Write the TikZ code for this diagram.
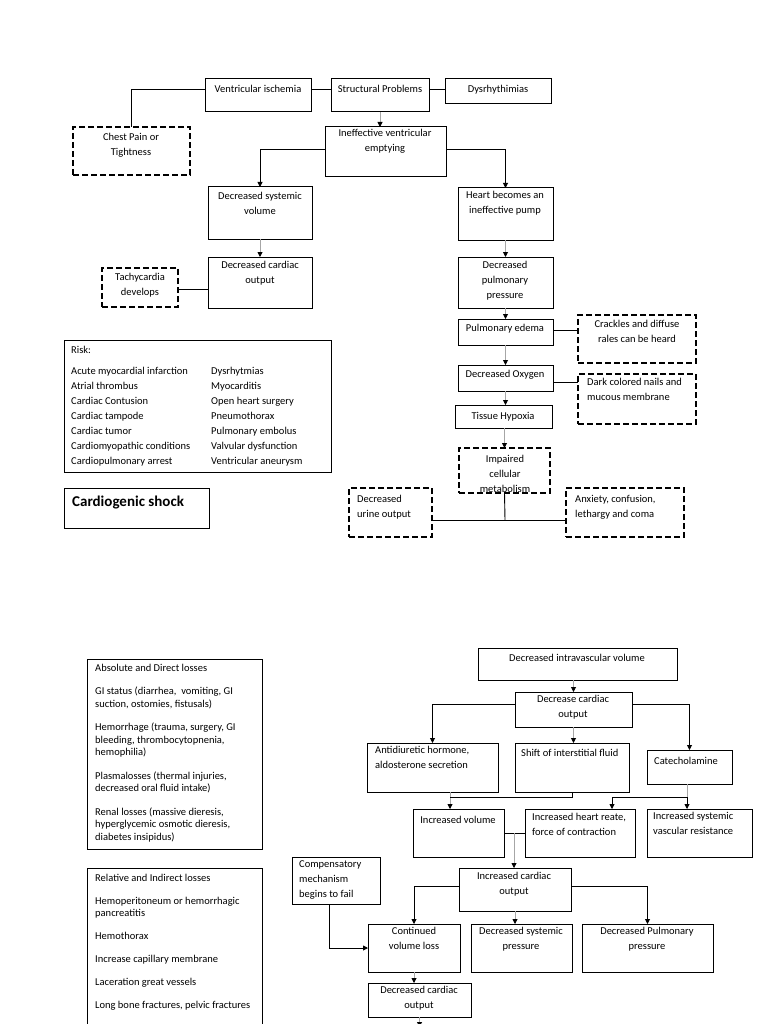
\documentclass[tikz,border=0pt]{standalone}
\usepackage{fontspec}
\setmainfont{Carlito}
\usetikzlibrary{arrows.meta,calc}
\newcommand\bx[6]{\node[#6, minimum width={#4-#2}, minimum height={#5-#3}] (#1) at ({(#2+#4)/2},{(#3+#5)/2}) {};}
\newcommand\tc[4]{\node[txt] (#1) at (#2,{#3-7}) {#4};}
\newcommand\tl[4]{\node[ltxt] (#1) at (#2,{#3-7}) {#4};}
\newcommand\tp[4]{\node[ptxt] (#1) at (#2,{#3-5.25}) {#4};}
\begin{document}
\begin{tikzpicture}[x=1pt,y=-1pt,
 box/.style={draw=black, line width=1pt, inner sep=0pt, outer sep=0pt},
 dbox/.style={draw=black, line width=2.4pt, dash pattern=on 6pt off 3pt, inner sep=0pt, outer sep=0pt},
 txt/.style={inner sep=0pt, anchor=north, align=center, font=\fontsize{10.5}{15}\selectfont, execute at begin node=\strut},
 ltxt/.style={txt, anchor=north west, align=left},
 ptxt/.style={ltxt, font=\fontsize{10.5}{12.5}\selectfont},
 ln/.style={draw=black, line width=0.9pt},
 gln/.style={draw=black!35, line width=0.9pt},
 arr/.style={ln, -{Triangle[length=5pt,width=5pt]}},
 garr/.style={gln, -{Triangle[length=5pt,width=5pt,color=black]}},
]
\useasboundingbox (0,0) rectangle (768,1024);
\fill[white] (0,0) rectangle (768,1024);
\clip (0,0) rectangle (768,1024);

% ---------- top: cardiogenic shock ----------
\bx{vi}{205}{79}{311}{112}{box}
\bx{sp}{331}{79}{429}{112}{box}
\bx{dh}{445}{79}{551}{104}{box}
\bx{chest}{73}{127}{190}{175}{dbox}
\bx{ive}{325}{127}{446}{177}{box}
\bx{dsv}{208}{187}{312}{239}{box}
\bx{dco}{208}{257}{312}{308}{box}
\bx{tachy}{102}{268}{178}{307}{dbox}
\bx{heart}{458}{188}{553}{240}{box}
\bx{dpp}{458}{257}{553}{308}{box}
\bx{pe}{458}{319}{553}{345}{box}
\bx{crack}{578}{315}{696}{363}{dbox}
\bx{do}{458}{365}{553}{391}{box}
\bx{dark}{578}{374}{696}{424}{dbox}
\bx{th}{455}{405}{552}{428}{box}
\bx{duo}{349}{488}{432}{537}{dbox}
\bx{anx}{566}{488}{684}{537}{dbox}
\bx{risk}{64}{340}{331}{472}{box}
\bx{cs}{64}{488}{209}{528}{box}

\tc{tvi}{258}{89}{Ventricular ischemia}
\tc{tsp}{380}{89}{Structural Problems}
\tc{tdh}{498}{89}{Dysrhythimias}
\tc{tchest}{131}{140}{Chest Pain or\\Tightness}
\tc{tive}{385}{136}{Ineffective ventricular\\emptying}
\tc{tdsv}{260}{199}{Decreased systemic\\volume}
\tc{tdco}{260}{268}{Decreased cardiac\\output}
\tc{ttachy}{140}{280}{Tachycardia\\develops}
\tc{theart}{505}{198}{Heart becomes an\\ineffective pump}
\tc{tdpp}{505}{268}{Decreased\\pulmonary\\pressure}
\tc{tpe}{505}{328}{Pulmonary edema}
\tc{tcrack}{637}{327}{Crackles and diffuse\\rales can be heard}
\tc{tdo}{505}{374}{Decreased Oxygen}
\tl{tdark}{587}{385}{Dark colored nails and\\mucous membrane}
\tc{tth}{503}{416}{Tissue Hypoxia}
\begin{scope}
\clip (459,448) rectangle (550,491.5);
\tc{ticm}{505}{462}{Impaired\\cellular\\metabolism}
\end{scope}
\bx{icm}{459}{448}{550}{493}{dbox}
\tl{tduo}{357}{502}{Decreased\\urine output}
\tl{tanx}{575}{502}{Anxiety, confusion,\\lethargy and coma}

\tl{trisk}{71}{350}{Risk:}
\tl{trc1}{71}{374}{Acute myocardial infarction\\Atrial thrombus\\Cardiac Contusion\\Cardiac tampode\\Cardiac tumor\\Cardiomyopathic conditions\\Cardiopulmonary arrest}
\tl{trc2}{211}{374}{Dysrhytmias\\Myocarditis\\Open heart surgery\\Pneumothorax\\Pulmonary embolus\\Valvular dysfunction\\Ventricular aneurysm}
\node[inner sep=0pt, anchor=base west, font=\fontsize{15}{18}\selectfont\bfseries] (tcs) at (72,506) {Cardiogenic shock};

% connectors top
\draw[ln] ([yshift=-10pt]vi.north east) -- ([yshift=-10pt]sp.north west);
\draw[ln] ([yshift=-10pt]sp.north east) -- ([yshift=-10pt]dh.north west);
\draw[ln] ([yshift=-10pt]vi.north west) -| (chest.north);
\draw[garr] (sp.south) -- (sp.south |- ive.north);
\draw[arr] ([yshift=-22pt]ive.north west) -| (dsv.north);
\draw[arr] ([yshift=-22pt]ive.north east) -| (heart.north);
\draw[garr] (dsv.south) -- (dco.north);
\draw[ln] ([yshift=-2pt]tachy.east) -- ([yshift=-2pt]tachy.east -| dco.west);
\draw[garr] (heart.south) -- (dpp.north);
\draw[garr] (dpp.south) -- (pe.north);
\draw[garr] (pe.south) -- (do.north);
\draw[garr] (do.south) -- (do.south |- th.north);
\draw[garr] (icm.north |- th.south) -- (icm.north);
\draw[ln] ([yshift=2pt]pe.east) -- ([yshift=2pt]pe.east -| crack.west);
\draw[ln] ([yshift=-4pt]do.east) -- ([yshift=-4pt]do.east -| dark.west);
\coordinate (junc) at (505,520);
\draw[ln] (icm.south) -- (junc);
\draw[ln] (duo.east |- junc) -- (anx.west |- junc);

% ---------- bottom: hypovolemic ----------
\bx{abs}{87}{659}{262}{849}{box}
\bx{rel}{87}{868}{262}{1040}{box}
\tp{tabs}{95}{669}{Absolute and Direct losses\\[11pt]GI status (diarrhea,\ \ vomiting, GI\\suction, ostomies, fistusals)\\[11pt]Hemorrhage (trauma, surgery, GI\\bleeding, thrombocytopnenia,\\hemophilia)\\[11pt]Plasmalosses (thermal injuries,\\decreased oral fluid intake)\\[11pt]Renal losses (massive dieresis,\\hyperglycemic osmotic dieresis,\\diabetes insipidus)}
\tp{trel}{95}{879}{Relative and Indirect losses\\[10.5pt]Hemoperitoneum or hemorrhagic\\pancreatitis\\[10.5pt]Hemothorax\\[10.5pt]Increase capillary membrane\\[10.5pt]Laceration great vessels\\[10.5pt]Long bone fractures, pelvic fractures}

\bx{div}{478}{648}{677}{680}{box}
\bx{dcob}{515}{692}{632}{727}{box}
\bx{adh}{367}{743}{498}{792}{box}
\bx{shift}{515}{743}{629}{792}{box}
\bx{cat}{647}{750}{732}{784}{box}
\bx{iv}{413}{809}{504}{857}{box}
\bx{ihr}{525}{809}{635}{857}{box}
\bx{isvr}{647}{809}{752}{857}{box}
\bx{ico}{459}{868}{571}{911}{box}
\bx{comp}{292}{857}{380}{904}{box}
\bx{cvl}{368}{924}{460}{972}{box}
\bx{dsp}{471}{924}{572}{972}{box}
\bx{dpp2}{582}{924}{713}{972}{box}
\bx{dco2}{368}{983}{471}{1017}{box}

\tc{tdiv}{577}{658}{Decreased intravascular volume}
\tc{tdcob}{573}{702}{Decrease cardiac\\output}
\tl{tadh}{375}{753}{Antidiuretic hormone,\\aldosterone secretion}
\tl{tshift}{521}{753}{Shift of interstitial fluid}
\tl{tcat}{654}{761}{Catecholamine}
\tc{tiv}{458}{820}{Increased volume}
\tl{tihr}{532}{820}{Increased heart reate,\\force of contraction}
\tl{tisvr}{653}{819}{Increased systemic\\vascular resistance}
\tc{tico}{514}{879}{Increased cardiac\\output}
\tl{tcomp}{299}{867}{Compensatory\\mechanism\\begins to fail}
\tc{tcvl}{414}{934}{Continued\\volume loss}
\tc{tdsp}{521}{934}{Decreased systemic\\pressure}
\tc{tdpp2}{647}{934}{Decreased Pulmonary\\pressure}
\tc{tdco2}{419}{993}{Decreased cardiac\\output}

\draw[garr] (dcob.north |- div.south) -- (dcob.north);
\draw[arr] ([yshift=-12pt]dcob.north west) -| (adh.north);
\draw[arr] ([yshift=-12pt]dcob.north east) -| (cat.north);
\draw[garr] (dcob.south) -- (dcob.south |- shift.north);
\coordinate (jA) at (450,797);
\draw[garr] (adh.south -| jA) -- (iv.north -| jA);
\draw[ln] (shift.south) |- (jA);
\coordinate (jC) at (687,797);
\coordinate (jD) at (612,797);
\draw[gln] (cat.south -| jC) -- (jC);
\draw[ln] (jD) -- (jC);
\draw[arr] (jD) -- (jD |- ihr.north);
\draw[arr] (jC) -- (jC |- isvr.north);
\draw[ln] ([yshift=-24pt]iv.north east) -- ([yshift=-24pt]ihr.north west);
\coordinate (jE) at (514,833);
\draw[garr] (jE) -- (jE |- ico.north);
\draw[arr] ([yshift=-18pt]ico.north west) -| (cvl.north);
\draw[arr] ([yshift=-18pt]ico.north east) -| (dpp2.north);
\draw[garr] (ico.south) -- (ico.south |- dsp.north);
\draw[arr] ([xshift=-7pt]comp.south) |- ([yshift=-24pt]cvl.north west);
\draw[garr] (cvl.south) -- (cvl.south |- dco2.north);
\coordinate (offp) at (419,1027);
\draw[garr] (dco2.south) -- (dco2.south |- offp);
\end{tikzpicture}
\end{document}
